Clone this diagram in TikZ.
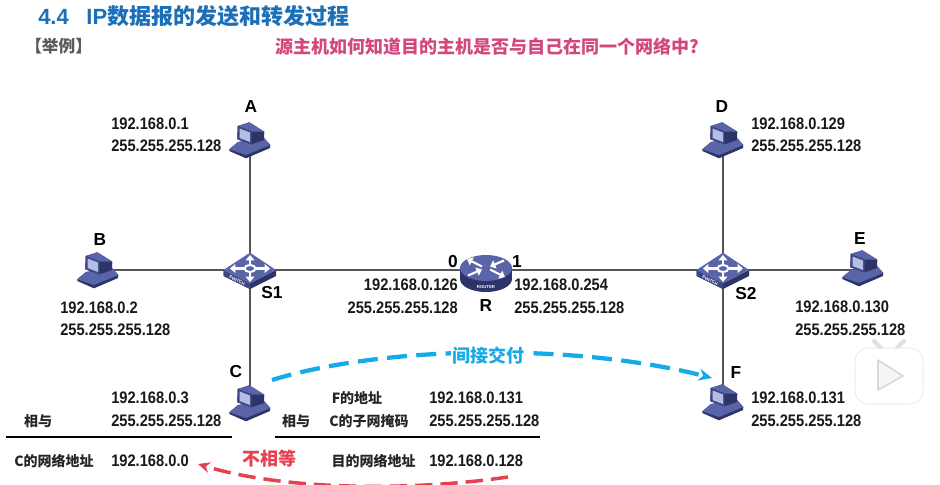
\documentclass[tikz,border=0pt]{standalone}
\usepackage{fontspec}
\setmainfont{Liberation Sans}
\newfontfamily\addrfont[FakeStretch=0.88]{Liberation Sans}
\newfontfamily\cjk{Noto Sans CJK SC}
\usetikzlibrary{arrows.meta}
\definecolor{titleblue}{HTML}{1B6FB8}
\definecolor{qpink}{HTML}{D2477E}
\definecolor{arcblue}{HTML}{14ABE6}
\definecolor{arcred}{HTML}{E8404F}
\definecolor{linkgray}{HTML}{555555}
\definecolor{devA}{HTML}{5A64A8}
\definecolor{devB}{HTML}{3D4785}
\definecolor{devC}{HTML}{2C3468}
\definecolor{devS}{HTML}{B4BDE6}
\tikzset{
  x=0.75pt,y=-0.75pt,
  pt/.style={inner sep=0pt,minimum size=0pt,outer sep=0pt},
  link/.style={draw=linkgray,line width=1.9pt},
  addr/.style={font=\addrfont\fontsize{12.5}{15}\selectfont\bfseries,anchor=west,inner sep=0pt,text=black!90},
  addrr/.style={addr,anchor=east},
  cjklabel/.style={font=\cjk\fontsize{10.5}{13}\selectfont\bfseries,inner sep=0pt,text=black!85},
  devname/.style={font=\fontsize{13}{15}\selectfont\bfseries,inner sep=0pt},
  rule/.style={draw=black,line width=1.5pt},
  tiny/.style={font=\fontsize{3.2}{4}\selectfont\bfseries,text=white,inner sep=0pt},
  wa/.style={white,line width=1.6pt,-{Triangle[length=4pt,width=6.5pt]}},
  computer/.pic={
    \fill[devC] (-20.7,9.3)--(-12,2)--(14,-2)--(20.3,5)--(20,8)--(-4,18.3)--(-20.7,11)--cycle;
    \fill[devA] (-20.7,9.3)--(-12,2)--(14,-2)--(20.3,5)--(-4,15)--cycle;
    \fill[devC] (-12.3,-14)--(-.7,-17.7)--(14.3,-8.3)--(14,0)--(1.7,4.3)--(-12.7,-.7)--cycle;
    \fill[devA] (-12.3,-14)--(-.7,-17.7)--(14.3,-8.3)--(1.7,-8.5)--cycle;
    \fill[devB] (-12.3,-14)--(1.7,-8.5)--(1.7,4.3)--(-12.7,-.7)--cycle;
    \fill[devS] (-10.5,-11.5)--(0,-7.5)--(0,2)--(-10.5,-2)--cycle;
  },
  switchbox/.pic={
    \fill[devC] (-26.5,0)--(0,13.3)--(26,0)--(26,6)--(0,19)--(-26.5,6)--cycle;
    \fill[devB] (-26.5,0)--(0,13.3)--(0,19)--(-26.5,6)--cycle;
    \fill[devA] (-26.5,0)--(0,-17.3)--(26,0)--(0,13.3)--cycle;
    \draw[white,line width=1.5pt] (0,-1.5) ellipse (5.5 and 3.5);
    \draw[wa] (-6,-1.5)--(-20,-1.5);
    \draw[wa] (6,-1.5)--(20,-1.5);
    \draw[wa] (0,-5)--(0,-15);
    \draw[wa] (0,2)--(0,12);
    \node[tiny,rotate=-27] at (-13,10.5) {SWITCH};
  },
  routerbox/.pic={
    \fill[devC] (0,11) ellipse (26 and 13);
    \fill[devC] (-26,0) rectangle (26,11);
    \fill[devA] (0,0) ellipse (26 and 13);
    \draw[wa] (-4,-1.5)--(-19,-9);
    \draw[wa] (4,1.5)--(19,9);
    \draw[wa] (-18,7.5)--(-4,1.5);
    \draw[wa] (18,-7.5)--(4,-1.5);
    \node[tiny] at (0,19) {ROUTER};
  },
}
\begin{document}
\begin{tikzpicture}
\useasboundingbox[fill=white] (0,0) rectangle (940,485);
% anchor points of the devices
\node[pt] (A) at (250,140) {};
\node[pt] (B) at (98,270) {};
\node[pt] (C) at (250,403) {};
\node[pt] (D) at (723,140) {};
\node[pt] (E) at (863,270) {};
\node[pt] (F) at (723,402) {};
\node[pt] (S1) at (250,270) {};
\node[pt] (S2) at (723,270) {};
\node[pt] (R) at (486,270) {};
% links
\draw[link] (A)--(S1);
\draw[link] (B)--(S1);
\draw[link] (C)--(S1);
\draw[link] (S1)--(R);
\draw[link] (R)--(S2);
\draw[link] (D)--(S2);
\draw[link] (E)--(S2);
\draw[link] (F)--(S2);
% devices
\pic at (A) {computer};
\pic at (B) {computer};
\pic at (C) {computer};
\pic at (D) {computer};
\pic at ([shift={(0,-2)}]E) {computer};
\pic at (F) {computer};
\pic at (S1) {switchbox};
\pic at (S2) {switchbox};
\pic at ([shift={(0,-2)}]R) {routerbox};
% headings
\node[anchor=west,inner sep=0pt,text=titleblue] (title) at (38,16) {\fontsize{16.5}{20}\selectfont\bfseries 4.4\hspace{0.8em}IP{\cjk 数据报的发送和转发过程}};
\node[anchor=west,inner sep=0pt,text=black!65] (ex) at (25,46) {\cjk\fontsize{12.5}{15}\selectfont\bfseries 【举例】};
\node[anchor=west,inner sep=0pt,text=qpink] (q) at (275,47) {\cjk\fontsize{13.5}{16}\selectfont\bfseries 源主机如何知道目的主机是否与自己在同一个网络中?};
% device names
\node[devname] (nA) at (251,107) {A};
\node[devname] (nB) at (100,240) {B};
\node[devname] (nC) at (236,372) {C};
\node[devname] (nD) at (722,107) {D};
\node[devname] (nE) at (860,239) {E};
\node[devname] (nF) at (736,373) {F};
\node[devname] (nS1) at (272,293) {S1};
\node[devname] (nS2) at (746,294) {S2};
\node[devname] (nR) at (486,306) {R};
\node[devname] (n0) at (453,262) {0};
\node[devname] (n1) at (517,262) {1};
% addresses
\node[addr] (a1) at (111,124) {192.168.0.1};
\node[addr] (a2) at (111,146) {255.255.255.128};
\node[addr] (b1) at (60,308) {192.168.0.2};
\node[addr] (b2) at (60,330) {255.255.255.128};
\node[addrr] (r01) at (458,285) {192.168.0.126};
\node[addrr] (r02) at (458,308) {255.255.255.128};
\node[addr] (r11) at (514,285) {192.168.0.254};
\node[addr] (r12) at (514,308) {255.255.255.128};
\node[addr] (d1) at (751,124) {192.168.0.129};
\node[addr] (d2) at (751,146) {255.255.255.128};
\node[addr] (e1) at (795,307) {192.168.0.130};
\node[addr] (e2) at (795,330) {255.255.255.128};
\node[addr] (f1) at (751,398) {192.168.0.131};
\node[addr] (f2) at (751,421) {255.255.255.128};
\node[addr] (c1) at (111,398) {192.168.0.3};
\node[addr] (c2) at (111,421) {255.255.255.128};
\node[addr] (c3) at (111,461) {192.168.0.0};
\node[addr] (t1) at (429,398) {192.168.0.131};
\node[addr] (t2) at (429,421) {255.255.255.128};
\node[addr] (t3) at (429,461) {192.168.0.128};
\node[cjklabel] (l1) at (38,421) {相与};
\node[cjklabel,anchor=east] (l2) at (94,461) {C的网络地址};
\node[cjklabel] (l3) at (296,421) {相与};
\node[cjklabel] (l4) at (357,398) {F的地址};
\node[cjklabel] (l5) at (369,421) {C的子网掩码};
\node[cjklabel,anchor=east] (l6) at (416,461) {目的网络地址};
% rules
\coordinate (ru1) at (6,437);
\coordinate (ru2) at (232,437);
\coordinate (ru3) at (275,437);
\coordinate (ru4) at (540,437);
\draw[rule] (ru1)--(ru2);
\draw[rule] (ru3)--(ru4);
% delivery arcs
\coordinate (bs) at (272,380);
\coordinate (be) at (712,378);
\coordinate (rs) at (508,477);
\coordinate (re) at (198,464);
\draw[arcblue,line width=3.2pt,dash pattern=on 15pt off 7pt,-{Stealth[length=10pt,width=9pt]}] (bs) .. controls (390,344) and (580,344) .. (be);
\node[fill=white,inner sep=1pt,text=arcblue] (bl) at (488,356) {\cjk\fontsize{13.5}{16}\selectfont\bfseries 间接交付};
\draw[arcred,line width=2.6pt,dash pattern=on 13pt off 6pt,-{Stealth[length=9pt,width=8pt]}] (rs) .. controls (420,490) and (290,492) .. (re);
\node[inner sep=0pt,text=arcred] (rl) at (269,459) {\cjk\fontsize{13.5}{16}\selectfont\bfseries 不相等};
% player watermark
\begin{scope}[shift={(889,375)}]
  \draw[black!12,line width=3pt,line cap=round] (-8,-27)--(-15,-34);
  \draw[black!12,line width=3pt,line cap=round] (8,-27)--(15,-34);
  \draw[black!12,fill=white,fill opacity=.85,rounded corners=10pt] (-34,-27) rectangle (34,29);
  \draw[black!15,fill=black!4,line width=1.2pt,line join=round] (-11,-15)--(14,1)--(-11,15)--cycle;
\end{scope}
\end{tikzpicture}
\end{document}
